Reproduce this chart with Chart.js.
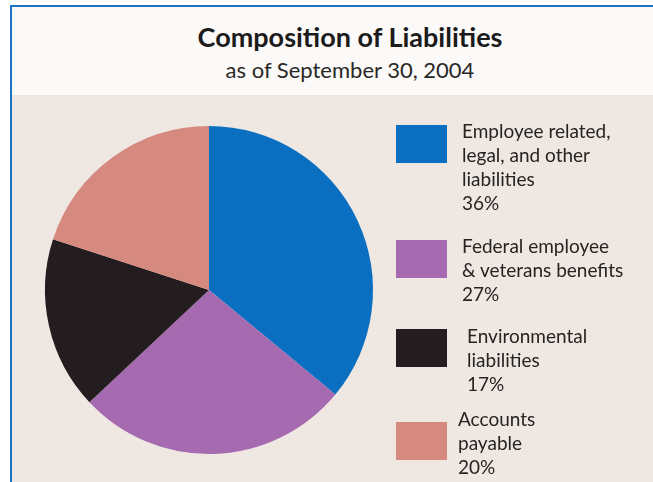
<!DOCTYPE html>
<html>
<head>
<meta charset="utf-8">
<script src="https://cdn.jsdelivr.net/npm/chart.js@4"></script>
<style>
  html, body { margin: 0; padding: 0; }
  body { width: 653px; height: 482px; position: relative; overflow: hidden; background: #ffffff; font-family: Lato, "Open Sans", sans-serif; }
  #frame { position: absolute; left: 10px; top: 5px; right: 0; bottom: 0; border-top: 2px solid #1b74c1; border-left: 2px solid #1b74c1; }
  #head { position: absolute; left: 12px; top: 7px; right: 0; height: 88px; background: #fbfaf8; }
  #panel { position: absolute; left: 12px; top: 95px; right: 0; bottom: 0; background: #efe8e2; }
  #title { position: absolute; left: 0; width: 700px; top: 20px; text-align: center; font-weight: 700; font-size: 27px; color: #1c1a1a; }
  #subtitle { position: absolute; left: 0; width: 700px; top: 56px; text-align: center; font-size: 22px; color: #2a2727; }
  #chartBox { position: absolute; left: 0; top: 0; width: 653px; height: 482px; }
  .swatch { position: absolute; width: 51px; height: 38px; }
  .ltext { position: absolute; font-size: 19px; line-height: 24px; color: #262323; white-space: nowrap; }
</style>
</head>
<body>
<div id="head"></div>
<div id="panel"></div>
<div id="frame"></div>
<div id="title">Composition of Liabilities</div>
<div id="subtitle">as of September 30, 2004</div>
<div id="chartBox"><canvas id="pie"></canvas></div>
<div id="legend"></div>
<script>
// slices, clockwise from 12 o'clock
const categories = [
  ['Employee related,', 'legal, and other', 'liabilities'],
  ['Federal employee', '& veterans benefits'],
  ['Environmental', 'liabilities'],
  ['Accounts', 'payable']
];
const shares = [36, 27, 17, 20];
const sliceColors = ['#0a6fc1', '#a66ab1', '#241d1f', '#d6897e'];

// legend block placement: swatch top, text left, text top
const legendSpots = [
  { box: 125, x: 462, y: 119 },
  { box: 240, x: 462, y: 234 },
  { box: 329, x: 467, y: 324 },
  { box: 422, x: 458, y: 407 }
];

const legend = document.getElementById('legend');
categories.forEach(function(lines, i) {
  const sw = document.createElement('div');
  sw.className = 'swatch';
  sw.style.left = '396px';
  sw.style.top = legendSpots[i].box + 'px';
  sw.style.background = sliceColors[i];
  legend.appendChild(sw);

  const txt = document.createElement('div');
  txt.className = 'ltext';
  txt.style.left = legendSpots[i].x + 'px';
  txt.style.top = legendSpots[i].y + 'px';
  txt.innerHTML = lines.concat([shares[i] + '%']).join('<br>');
  legend.appendChild(txt);
});

const ctx = document.getElementById('pie').getContext('2d');
new Chart(ctx, {
  type: 'pie',
  data: {
    labels: categories.map(l => l.join(' ')),
    datasets: [{
      data: shares,
      backgroundColor: sliceColors,
      borderWidth: 0
    }]
  },
  options: {
    responsive: true,
    maintainAspectRatio: false,
    animation: false,
    layout: { padding: { left: 45, right: 280, top: 126, bottom: 28 } },
    plugins: {
      legend: { display: false },
      tooltip: { enabled: false }
    }
  }
});
</script>
</body>
</html>
